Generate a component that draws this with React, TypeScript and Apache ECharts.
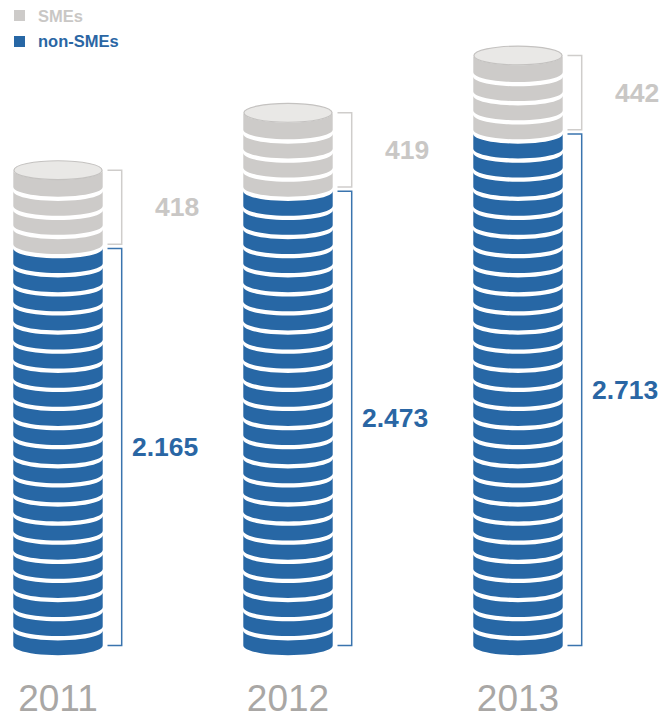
import React, { useEffect, useRef } from 'react';
import * as echarts from 'echarts';

// ---- data ----
const years = ['2011', '2012', '2013'];
const nonSMEs = [2165, 2473, 2713];
const SMEs = [418, 419, 442];
const seriesNames = ['SMEs', 'non-SMEs'];
const COIN = 100; // units represented by one coin

// ---- styles ----
const BLUE = '#2767a5';
const BLUE_TEXT = '#2a66a4';
const BLUE_BRACKET = '#3a74ae';
const GREY = '#cdcbc9';
const GREY_TEXT = '#c9c7c5';
const GREY_BRACKET = '#cfcdcb';
const FACE = '#e9e8e6';
const FACE_STROKE = '#c4c2c0';
const YEAR = '#a9a7a5';
const RX = 44.7;
const RY = 9.7;
const GAP = 4.3;
const FACE_OFF = 2.3;
const SEG = 24;
const FONT = '"Liberation Sans", Arial, Helvetica, sans-serif';

const whole = (v: number) => Math.floor(v / COIN) * COIN;
const nonSmeData = years.map((_, i) => [i, 0, whole(nonSMEs[i]), nonSMEs[i]]);
const smeData = years.map((_, i) => [i, whole(nonSMEs[i]), whole(nonSMEs[i]) + whole(SMEs[i]), SMEs[i]]);

function makeRender(o: {
  color: string; labelColor: string; bracketColor: string; labelX: number;
  format: (v: number) => string; top: boolean;
}) {
  return (params: any, api: any) => {
    const i = api.value(0);
    const start = api.value(1);
    const end = api.value(2);
    const raw = api.value(3);
    const base = api.coord([i, start]);
    const cx = base[0];
    const yBase = base[1];
    const n = Math.round((end - start) / COIN);
    const children: any[] = [];
    let topY = yBase;
    for (let k = 0; k < n; k++) {
      const yb = api.coord([i, start + k * COIN])[1];
      const last = k === n - 1;
      const yt = api.coord([i, start + (k + 1) * COIN])[1] + (last && o.top ? FACE_OFF : GAP);
      const pts: number[][] = [];
      for (let j = 0; j <= SEG; j++) {
        const a = Math.PI * (1 - j / SEG);
        pts.push([cx + RX * Math.cos(a), yt + RY * Math.sin(a)]);
      }
      for (let j = 0; j <= SEG; j++) {
        const a = (Math.PI * j) / SEG;
        pts.push([cx + RX * Math.cos(a), yb + RY * Math.sin(a)]);
      }
      children.push({ type: 'polygon', shape: { points: pts }, style: { fill: o.color } });
      if (last) {
        topY = yt;
        if (o.top) {
          children.push({
            type: 'ellipse',
            shape: { cx, cy: yt, rx: RX - 0.6, ry: RY - 0.3 },
            style: { fill: FACE, stroke: FACE_STROKE, lineWidth: 1.2 },
          });
        }
      }
    }
    const bx = cx + 63.7;
    const tx0 = cx + 49.5;
    children.push({
      type: 'polyline',
      shape: { points: [[tx0, topY], [bx, topY], [bx, yBase], [tx0, yBase]] },
      style: { stroke: o.bracketColor, lineWidth: 1.5, fill: null },
    });
    children.push({
      type: 'text',
      style: {
        text: o.format(raw),
        x: cx + o.labelX,
        y: (topY + yBase) / 2,
        fill: o.labelColor,
        fontSize: 26.5,
        fontWeight: 'bold',
        fontFamily: FONT,
        align: 'left',
        verticalAlign: 'middle',
      },
    });
    return { type: 'group', children };
  };
}

export default function App() {
  const ref = useRef<HTMLDivElement>(null);
  useEffect(() => {
    if (!ref.current) return;
    const chart = echarts.init(ref.current, null, { renderer: 'svg' });
    chart.setOption({
      animation: false,
      backgroundColor: '#ffffff',
      grid: { left: 58, right: 144, top: 15, bottom: 68.2 },
      xAxis: {
        type: 'category',
        data: years,
        boundaryGap: false,
        axisLine: { show: false },
        axisTick: { show: false },
        splitLine: { show: false },
        axisLabel: {
          interval: 0,
          margin: 40,
          fontSize: 37,
          lineHeight: 26,
          color: YEAR,
          fontFamily: FONT,
        },
      },
      yAxis: { type: 'value', min: 0, max: 3300, show: false, splitLine: { show: false } },
      graphic: [
        { type: 'rect', left: 14, top: 10, shape: { width: 11, height: 11 }, style: { fill: GREY } },
        { type: 'rect', left: 14, top: 36, shape: { width: 11, height: 11 }, style: { fill: BLUE } },
        {
          type: 'text', x: 38, y: 16,
          style: { text: seriesNames[0], fill: GREY_TEXT, fontSize: 16.5, fontWeight: 'bold', fontFamily: FONT, verticalAlign: 'middle' },
        },
        {
          type: 'text', x: 38, y: 41,
          style: { text: seriesNames[1], fill: BLUE_TEXT, fontSize: 16.5, fontWeight: 'bold', fontFamily: FONT, verticalAlign: 'middle' },
        },
      ],
      series: [
        {
          type: 'custom',
          name: seriesNames[1],
          itemStyle: { color: BLUE },
          encode: { x: 0, y: [1, 2] },
          data: nonSmeData,
          renderItem: makeRender({
            color: BLUE, labelColor: BLUE_TEXT, bracketColor: BLUE_BRACKET, labelX: 74,
            format: (v) => (v / 1000).toFixed(3), top: false,
          }),
        },
        {
          type: 'custom',
          name: seriesNames[0],
          itemStyle: { color: GREY },
          encode: { x: 0, y: [1, 2] },
          data: smeData,
          renderItem: makeRender({
            color: GREY, labelColor: GREY_TEXT, bracketColor: GREY_BRACKET, labelX: 97,
            format: (v) => String(v), top: true,
          }),
        },
      ],
    });
    return () => chart.dispose();
  }, []);
  return <div ref={ref} style={{ position: 'absolute', left: 0, top: 0, width: 662, height: 717 }} />;
}
